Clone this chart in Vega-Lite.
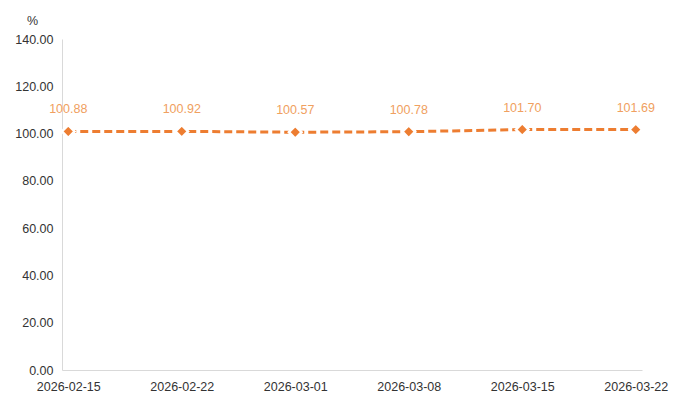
{
  "$schema": "https://vega.github.io/schema/vega-lite/v6.json",
  "autosize": "none",
  "width": 580,
  "height": 331,
  "padding": {"left": 62, "top": 39, "right": 47, "bottom": 35},
  "background": "white",
  "config": {
    "view": {"stroke": null},
    "font": "Liberation Sans",
    "axis": {"labelFont": "Liberation Sans", "titleFont": "Liberation Sans"}
  },
  "data": {
    "values": [
      {"date": "2026-02-15", "value": 100.88},
      {"date": "2026-02-22", "value": 100.92},
      {"date": "2026-03-01", "value": 100.57},
      {"date": "2026-03-08", "value": 100.78},
      {"date": "2026-03-15", "value": 101.70},
      {"date": "2026-03-22", "value": 101.69}
    ]
  },
  "encoding": {
    "x": {
      "field": "date", "type": "ordinal",
      "scale": {"type": "point", "padding": 0.055},
      "axis": {"title": null, "labelAngle": 0, "ticks": false, "grid": false, "domainColor": "#d9d9d9", "labelColor": "#333333", "labelFontSize": 12.5, "labelPadding": 10}
    },
    "y": {
      "field": "value", "type": "quantitative",
      "scale": {"domain": [0, 140], "nice": false},
      "axis": {"values": [0, 20, 40, 60, 80, 100, 120, 140], "format": ".2f", "grid": false, "ticks": false, "domainColor": "#d9d9d9", "labelColor": "#333333", "labelFontSize": 12.5, "labelPadding": 9,
        "title": "%", "titleAngle": 0, "titleFontWeight": "normal", "titleFontSize": 12.5, "titleColor": "#333333", "titleX": -30, "titleY": -15, "titleAlign": "center", "titleBaseline": "alphabetic"}
    }
  },
  "layer": [
    {"mark": {"type": "line", "color": "#ED7D31", "strokeWidth": 3, "strokeDash": [8, 4]}},
    {"mark": {"type": "point", "shape": "diamond", "filled": true, "size": 160, "color": "#ED7D31", "stroke": "white", "strokeWidth": 2.5, "opacity": 1}},
    {"mark": {"type": "text", "dy": -22, "color": "#F0A060", "fontSize": 12.5}, "encoding": {"text": {"field": "value", "type": "quantitative", "format": ".2f"}}}
  ]
}
